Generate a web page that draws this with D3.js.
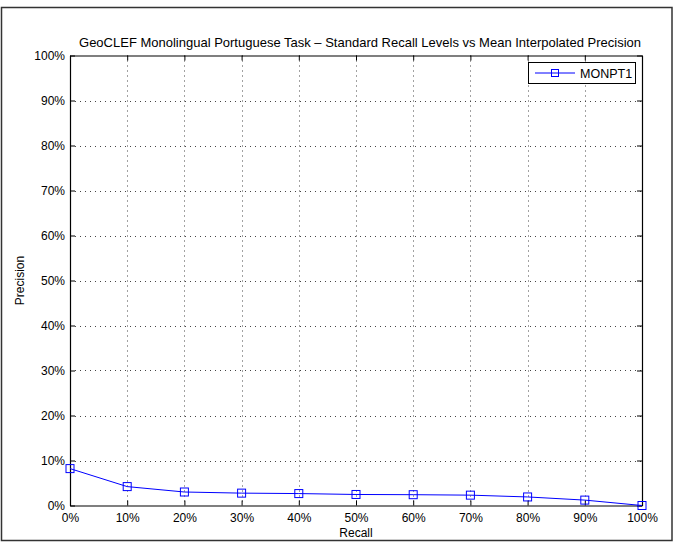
<!DOCTYPE html>
<html><head><meta charset="utf-8">
<script src="https://cdn.jsdelivr.net/npm/d3@7"></script>
<style>body{margin:0;background:#fff}svg{display:block}text{font-family:"Liberation Sans",Arial,sans-serif;fill:#000}</style>
</head><body>
<script>
const recall = [0,10,20,30,40,50,60,70,80,90,100];
const precision = [8.2,4.2,3.0,2.75,2.65,2.45,2.4,2.3,1.9,1.2,0.0];
const xTicks = [0,10,20,30,40,50,60,70,80,90,100];
const yTicks = [0,10,20,30,40,50,60,70,80,90,100];
const seriesName = "MONPT1";
const title = "GeoCLEF Monolingual Portuguese Task \u2013 Standard Recall Levels vs Mean Interpolated Precision";

const W=676,H=545;
const L=70,R=642,T=55.5,B=505.5;
const svg=d3.select("body").append("svg").attr("width",W).attr("height",H);
svg.append("rect").attr("x",1.5).attr("y",7.5).attr("width",670.5).attr("height",533).attr("fill","#fff").attr("stroke","#333").attr("stroke-width",1.5);

const x=d3.scaleLinear().domain([0,100]).range([L,R]);
const y=d3.scaleLinear().domain([0,100]).range([B,T]);

// grid
const g=svg.append("g");
g.selectAll(".vg").data(xTicks.slice(1,-1)).enter().append("line")
 .attr("x1",d=>Math.round(x(d))+0.5).attr("x2",d=>Math.round(x(d))+0.5).attr("y1",T).attr("y2",B)
 .attr("stroke","#444").attr("stroke-width",1).attr("stroke-dasharray","1,4");
g.selectAll(".hg").data(yTicks.slice(1,-1)).enter().append("line")
 .attr("y1",d=>Math.round(y(d))+0.5).attr("y2",d=>Math.round(y(d))+0.5).attr("x1",L).attr("x2",R)
 .attr("stroke","#444").attr("stroke-width",1).attr("stroke-dasharray","1,4");

// axes
const fmt=d=>d+"%";
const ax=svg.append("g").attr("transform",`translate(0,${B})`).call(d3.axisBottom(x).tickValues(xTicks).tickFormat(fmt).tickSizeInner(-5).tickSizeOuter(0).tickPadding(8));
const ay=svg.append("g").attr("transform",`translate(${L},0)`).call(d3.axisLeft(y).tickValues(yTicks).tickFormat(fmt).tickSizeInner(-5).tickSizeOuter(0).tickPadding(5));
const axT=svg.append("g").attr("transform",`translate(0,${T})`).call(d3.axisTop(x).tickValues(xTicks).tickFormat("").tickSizeInner(-5).tickSizeOuter(0));
const ayR=svg.append("g").attr("transform",`translate(${R},0)`).call(d3.axisRight(y).tickValues(yTicks).tickFormat("").tickSizeInner(-5).tickSizeOuter(0));
[ax,ay,axT,ayR].forEach(a=>{a.selectAll("text").attr("font-size",12).attr("font-family","Liberation Sans, Arial, sans-serif");a.selectAll("line,path").attr("stroke","#000");a.select(".domain").attr("stroke-width",1.2);});

// line
svg.append("path").datum(recall.map((r,i)=>[r,precision[i]]))
 .attr("d",d3.line().x(d=>x(d[0])).y(d=>y(d[1])))
 .attr("fill","none").attr("stroke","#0000ff").attr("stroke-width",1);
svg.selectAll(".m").data(recall).enter().append("rect")
 .attr("x",(d)=>x(d)-4).attr("y",(d,i)=>y(precision[i])-4).attr("width",8).attr("height",8)
 .attr("fill","none").attr("stroke","#0000ff").attr("stroke-width",1);

// title & labels
svg.append("text").attr("x",360).attr("y",47).attr("text-anchor","middle").attr("font-size",13).text(title);
svg.append("text").attr("x",(L+R)/2).attr("y",537).attr("text-anchor","middle").attr("font-size",12).text("Recall");
svg.append("text").attr("transform",`translate(24,${(T+B)/2}) rotate(-90)`).attr("text-anchor","middle").attr("font-size",12).text("Precision");

// legend
const lg=svg.append("g");
lg.append("rect").attr("x",528.5).attr("y",62.5).attr("width",107).attr("height",21).attr("fill","#fff").attr("stroke","#000").attr("stroke-width",1);
lg.append("line").attr("x1",535).attr("x2",575).attr("y1",73).attr("y2",73).attr("stroke","#0000ff");
lg.append("rect").attr("x",551.5).attr("y",69.5).attr("width",7).attr("height",7).attr("fill","none").attr("stroke","#0000ff");
lg.append("text").attr("x",580).attr("y",77.5).attr("font-size",12.5).text(seriesName);
</script>
</body></html>
